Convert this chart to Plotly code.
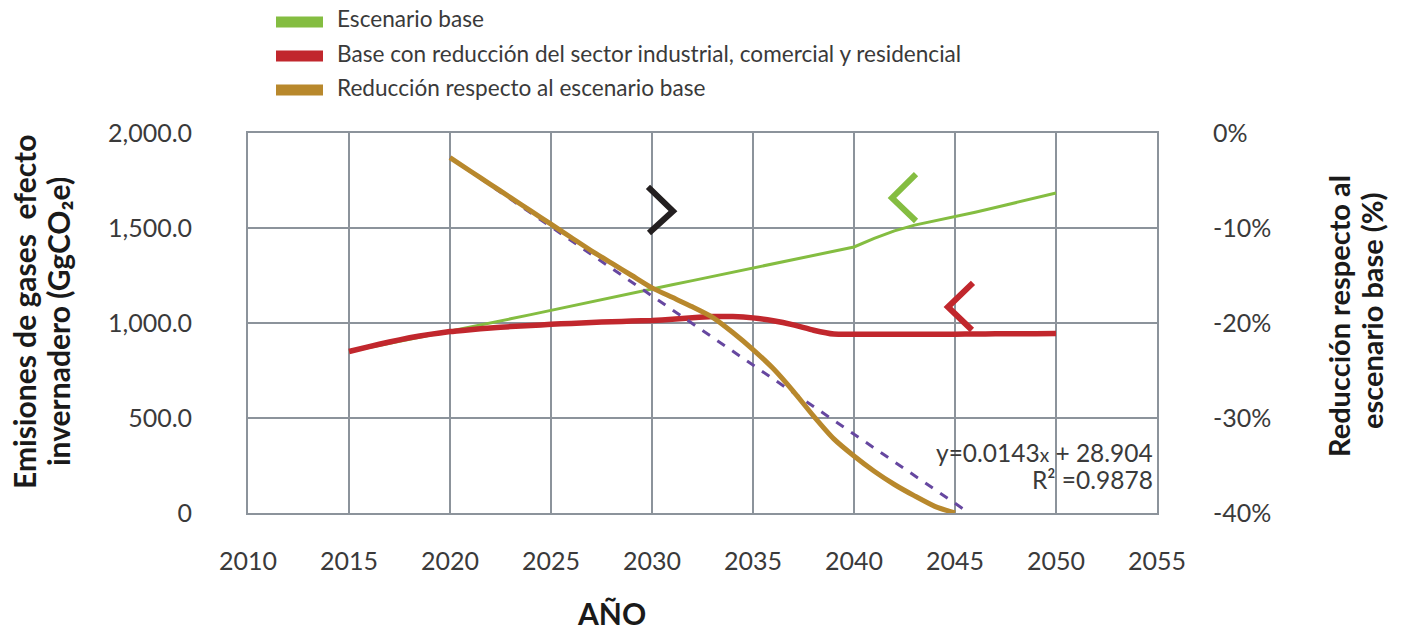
import plotly.graph_objects as go

# ---------------- data ----------------
years_base = list(range(2015, 2051))
escenario_base = [850, 871, 892, 913, 934, 955, 977, 999, 1022, 1044,
                  1067, 1089, 1112, 1134, 1157, 1179, 1201, 1223, 1245, 1267,
                  1289, 1311, 1333, 1356, 1378, 1400, 1445, 1485, 1515, 1537,
                  1558, 1583, 1608, 1633, 1658, 1684]

years_red = list(range(2015, 2051))
base_reduccion = [850, 876, 900, 922, 940, 955, 965, 974, 981, 987,
                  993, 998, 1003, 1007, 1010, 1013, 1020, 1028, 1034, 1034,
                  1027, 1012, 990, 962, 942, 941, 941, 941, 941, 941,
                  941, 942, 943, 943, 944, 945]

years_pct = list(range(2020, 2046))
reduccion_pct = [-2.6, -4.0, -5.4, -6.8, -8.2, -9.6, -11.0, -12.4, -13.7, -15.0,
                 -16.3, -17.3, -18.3, -19.4, -21.0, -22.8, -24.8, -27.2, -29.8, -32.2,
                 -34.0, -35.6, -37.0, -38.2, -39.3, -40.0]

trend_x = [2020, 2045.7]
trend_y = [-2.6, -40.0]

# decorative chevrons (data coordinates)
chev_black_x = [2029.8, 2031.04, 2029.85]
chev_black_y = [1716, 1589, 1474]
chev_green_x = [2043.07, 2041.88, 2043.07]
chev_green_y = [1784, 1658, 1537]
chev_red_x = [2045.89, 2044.65, 2045.84]
chev_red_y = [1211, 1084, 963]

x_ticks = [2010, 2015, 2020, 2025, 2030, 2035, 2040, 2045, 2050, 2055]
y_ticks = [0, 500, 1000, 1500, 2000]
y_ticktext = ["0", "500.0", "1,000.0", "1,500.0", "2,000.0"]
y2_ticks = [0, -10, -20, -30, -40]
y2_ticktext = ["0%", "-10%", "-20%", "-30%", "-40%"]

legend_names = ["Escenario base",
                "Base con reducción del sector industrial, comercial y residencial",
                "Reducción respecto al escenario base"]

GREEN = "#84bd41"
RED = "#c1272d"
GOLD = "#b8882c"
PURPLE = "#6647a0"
BLACK = "#231f20"
GRID = "#8c939b"
TXT = "#3a3a3a"
TITLE = "#1a1a1a"
FONT = "Lato"

W, H = 1403, 633
L, R, T, B = 248, 1157, 133, 513


def px(xp):
    return (xp - L) / (R - L)


def py(yp):
    return (B - yp) / (B - T)


fig = go.Figure()

fig.add_trace(go.Scatter(x=years_base, y=escenario_base, mode="lines",
                         line=dict(color=GREEN, width=3), showlegend=False,
                         name=legend_names[0]))
fig.add_trace(go.Scatter(x=years_red, y=base_reduccion, mode="lines",
                         line=dict(color=RED, width=5.5, shape="spline", smoothing=0.4),
                         showlegend=False, name=legend_names[1]))
fig.add_trace(go.Scatter(x=trend_x, y=trend_y, mode="lines", yaxis="y2",
                         line=dict(color=PURPLE, width=3, dash="dash"),
                         showlegend=False, name="Tendencia"))
fig.add_trace(go.Scatter(x=years_pct, y=reduccion_pct, mode="lines", yaxis="y2",
                         line=dict(color=GOLD, width=5, shape="spline", smoothing=0.6),
                         showlegend=False, name=legend_names[2]))

for cx, cy, col in [(chev_black_x, chev_black_y, BLACK),
                    (chev_green_x, chev_green_y, GREEN),
                    (chev_red_x, chev_red_y, RED)]:
    fig.add_trace(go.Scatter(x=cx, y=cy, mode="lines", showlegend=False,
                             line=dict(color=col, width=6), hoverinfo="skip"))

shapes = []
annotations = []

# manual legend
for i, (name, col) in enumerate(zip(legend_names, [GREEN, RED, GOLD])):
    yc = 19 + 34 * i
    shapes.append(dict(type="rect", xref="paper", yref="paper",
                       x0=px(276), x1=px(323), y0=py(yc + 3 + 5.5), y1=py(yc + 3 - 5.5),
                       fillcolor=col, line=dict(width=0)))
    annotations.append(dict(text=name, xref="paper", yref="paper",
                            x=px(335), y=py(yc), xanchor="left", yanchor="middle",
                            showarrow=False, font=dict(family=FONT, size=22.6, color=TXT)))

# equation
annotations.append(dict(text="y=0.0143<span style='font-size:19px'>x</span> + 28.904",
                        xref="paper", yref="paper", x=px(1155), y=py(452),
                        xanchor="right", yanchor="middle", showarrow=False,
                        font=dict(family=FONT, size=24.5, color=TXT)))
annotations.append(dict(text="R² =0.9878", xref="paper", yref="paper",
                        x=px(1155), y=py(479), xanchor="right", yanchor="middle",
                        showarrow=False, font=dict(family=FONT, size=24.5, color=TXT)))

# axis titles (one annotation per line for tighter line spacing)
left_title = [("Emisiones de gases  efecto", 24, 312),
              ("invernadero (GgCO₂e)", 58, 322)]
for txt, xc, yc in left_title:
    annotations.append(dict(text="<b>" + txt + "</b>", xref="paper", yref="paper",
                            x=px(xc), y=py(yc), xanchor="center", yanchor="middle",
                            textangle=-90, showarrow=False,
                            font=dict(family=FONT, size=30, color=TITLE)))
right_title = [("Reducción respecto al", 1338, 316),
               ("escenario base (%)", 1371, 311)]
for txt, xc, yc in right_title:
    annotations.append(dict(text="<b>" + txt + "</b>", xref="paper", yref="paper",
                            x=px(xc), y=py(yc), xanchor="center", yanchor="middle",
                            textangle=-90, showarrow=False,
                            font=dict(family=FONT, size=29, color=TITLE)))

annotations.append(dict(text="<b>AÑO</b>", xref="paper", yref="paper",
                        x=px(611), y=py(632), xanchor="center", yanchor="bottom",
                        borderpad=0, showarrow=False,
                        font=dict(family=FONT, size=30, color=TITLE)))

fig.update_layout(
    width=W, height=H,
    margin=dict(l=L, r=W - R, t=T, b=H - B),
    paper_bgcolor="white", plot_bgcolor="white",
    font=dict(family=FONT, size=25, color=TXT),
    shapes=shapes, annotations=annotations,
    showlegend=False,
    xaxis=dict(range=[2010, 2055], tickvals=x_ticks, showgrid=True,
               gridcolor=GRID, gridwidth=1.8, showline=True, linecolor=GRID,
               linewidth=1.8, mirror=True, zeroline=False, ticks="",
               ticklabelstandoff=25, tickfont=dict(size=25, color=TXT)),
    yaxis=dict(range=[0, 2000], tickvals=y_ticks, ticktext=y_ticktext,
               showgrid=True, gridcolor=GRID, gridwidth=1.8, showline=True,
               linecolor=GRID, linewidth=1.8, mirror=True, zeroline=False,
               ticks="", ticklabelstandoff=49, tickfont=dict(size=25, color=TXT)),
    yaxis2=dict(range=[-40, 0], tickvals=y2_ticks, ticktext=y2_ticktext,
                overlaying="y", side="right", showgrid=False, zeroline=False,
                ticks="", ticklabelstandoff=55, tickfont=dict(size=25, color=TXT)),
)

fig.write_html("out.html", config={"displayModeBar": False},
               post_script="document.body.style.margin='0px';")
